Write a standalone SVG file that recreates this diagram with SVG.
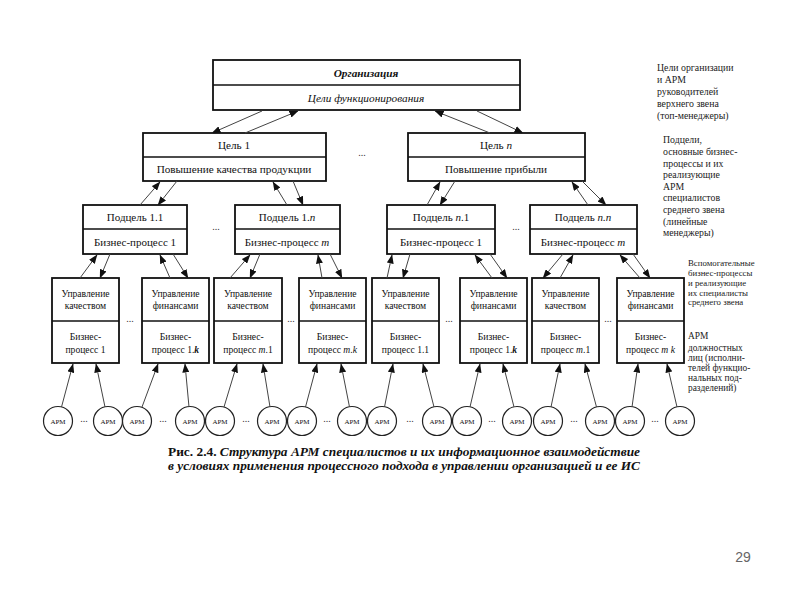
<svg xmlns="http://www.w3.org/2000/svg" width="800" height="600" viewBox="0 0 800 600">
<style>
.box{fill:#fff;stroke:#111;stroke-width:1.8}
.div{stroke:#111;stroke-width:1.4}
.t{font-family:"Liberation Serif","DejaVu Serif",serif;fill:#111;text-anchor:middle}
.t1{font-size:11.3px}
.t2{font-size:11.2px}
.t3{font-size:11px}
.t4{font-size:9.6px}
.ta{font-size:7px}
.up{fill:none;stroke:#444;stroke-width:1;marker-end:url(#ah)}
.dots{font-family:"Liberation Serif",serif;font-size:10px;fill:#333;text-anchor:middle}
.note{font-family:"Liberation Serif","DejaVu Serif",serif;font-size:9.8px;fill:#222}
.n3{font-size:8.8px}
.n4{font-size:9.4px}
.circ{fill:#fff;stroke:#222;stroke-width:1.2}
</style>
<defs>
<marker id="ah" markerUnits="userSpaceOnUse" markerWidth="9" markerHeight="7" refX="8.5" refY="3.5" orient="auto">
<path d="M0,0 L9,3.5 L0,7 z" fill="#111"/>
</marker>
</defs>
<rect width="800" height="600" fill="#fff"/>

<g id="org">
<rect class="box" x="213" y="60" width="307" height="50"/>
<line class="div" x1="213" y1="85" x2="520" y2="85"/>
<text class="t t1" x="366" y="76.5" font-weight="bold" font-style="italic">Организация</text>
<text class="t t1" x="366" y="101.5" font-style="italic">Цели функционирования</text>
</g>

<g id="goal1">
<rect class="box" x="143" y="133" width="183" height="48"/>
<line class="div" x1="143" y1="157" x2="326" y2="157"/>
<text class="t t2" x="234" y="149">Цель 1</text>
<text class="t t2" x="234" y="173">Повышение качества продукции</text>
</g>
<g id="goaln">
<rect class="box" x="408" y="133" width="177" height="48"/>
<line class="div" x1="408" y1="157" x2="585" y2="157"/>
<text class="t t2" x="496" y="149">Цель <tspan font-style="italic">n</tspan></text>
<text class="t t2" x="496" y="173">Повышение прибыли</text>
</g>

<g id="sub11">
<rect class="box" x="83" y="205" width="104" height="49"/>
<line class="div" x1="83" y1="229" x2="187" y2="229"/>
<text class="t t3" x="135" y="221">Подцель 1.1</text>
<text class="t t3" x="135" y="245.5">Бизнес-процесс 1</text>
</g>
<g id="sub1n">
<rect class="box" x="235" y="205" width="105" height="49"/>
<line class="div" x1="235" y1="229" x2="340" y2="229"/>
<text class="t t3" x="287" y="221">Подцель 1.<tspan font-style="italic">n</tspan></text>
<text class="t t3" x="287" y="245.5">Бизнес-процесс <tspan font-style="italic">m</tspan></text>
</g>
<g id="subn1">
<rect class="box" x="387" y="205" width="108" height="49"/>
<line class="div" x1="387" y1="229" x2="495" y2="229"/>
<text class="t t3" x="441" y="221">Подцель <tspan font-style="italic">n</tspan>.1</text>
<text class="t t3" x="441" y="245.5">Бизнес-процесс 1</text>
</g>
<g id="subnn">
<rect class="box" x="530" y="205" width="107" height="49"/>
<line class="div" x1="530" y1="229" x2="637" y2="229"/>
<text class="t t3" x="583" y="221">Подцель <tspan font-style="italic">n.n</tspan></text>
<text class="t t3" x="583" y="245.5">Бизнес-процесс <tspan font-style="italic">m</tspan></text>
</g>

<g id="b1">
<rect class="box" x="52" y="278" width="67" height="85"/>
<line class="div" x1="52" y1="321" x2="119" y2="321"/>
<text class="t t4" x="85.5" y="297">Управление</text><text class="t t4" x="85.5" y="309">качеством</text>
<text class="t t4" x="85.5" y="340">Бизнес-</text><text class="t t4" x="85.5" y="353">процесс 1</text>
</g>
<g id="b2">
<rect class="box" x="142" y="278" width="67" height="85"/>
<line class="div" x1="142" y1="321" x2="209" y2="321"/>
<text class="t t4" x="175.5" y="297">Управление</text><text class="t t4" x="175.5" y="309">финансами</text>
<text class="t t4" x="175.5" y="340">Бизнес-</text><text class="t t4" x="175.5" y="353">процесс 1.<tspan font-style="italic" font-weight="bold">k</tspan></text>
</g>
<g id="b3">
<rect class="box" x="214" y="278" width="68" height="85"/>
<line class="div" x1="214" y1="321" x2="282" y2="321"/>
<text class="t t4" x="248" y="297">Управление</text><text class="t t4" x="248" y="309">качеством</text>
<text class="t t4" x="248" y="340">Бизнес-</text><text class="t t4" x="248" y="353">процесс <tspan font-style="italic">m</tspan>.1</text>
</g>
<g id="b4">
<rect class="box" x="299" y="278" width="67" height="85"/>
<line class="div" x1="299" y1="321" x2="366" y2="321"/>
<text class="t t4" x="332.5" y="297">Управление</text><text class="t t4" x="332.5" y="309">финансами</text>
<text class="t t4" x="332.5" y="340">Бизнес-</text><text class="t t4" x="332.5" y="353">процесс <tspan font-style="italic">m</tspan>.<tspan font-style="italic">k</tspan></text>
</g>
<g id="b5">
<rect class="box" x="372" y="278" width="67" height="85"/>
<line class="div" x1="372" y1="321" x2="439" y2="321"/>
<text class="t t4" x="405.5" y="297">Управление</text><text class="t t4" x="405.5" y="309">качеством</text>
<text class="t t4" x="405.5" y="340">Бизнес-</text><text class="t t4" x="405.5" y="353">процесс 1.1</text>
</g>
<g id="b6">
<rect class="box" x="460" y="278" width="67" height="85"/>
<line class="div" x1="460" y1="321" x2="527" y2="321"/>
<text class="t t4" x="493.5" y="297">Управление</text><text class="t t4" x="493.5" y="309">финансами</text>
<text class="t t4" x="493.5" y="340">Бизнес-</text><text class="t t4" x="493.5" y="353">процесс 1.<tspan font-style="italic" font-weight="bold">k</tspan></text>
</g>
<g id="b7">
<rect class="box" x="532" y="278" width="67" height="85"/>
<line class="div" x1="532" y1="321" x2="599" y2="321"/>
<text class="t t4" x="565.5" y="297">Управление</text><text class="t t4" x="565.5" y="309">качеством</text>
<text class="t t4" x="565.5" y="340">Бизнес-</text><text class="t t4" x="565.5" y="353">процесс <tspan font-style="italic">m</tspan>.1</text>
</g>
<g id="b8">
<rect class="box" x="617" y="278" width="67" height="85"/>
<line class="div" x1="617" y1="321" x2="684" y2="321"/>
<text class="t t4" x="650.5" y="297">Управление</text><text class="t t4" x="650.5" y="309">финансами</text>
<text class="t t4" x="650.5" y="340">Бизнес-</text><text class="t t4" x="650.5" y="353">процесс <tspan font-style="italic">m</tspan> <tspan font-style="italic">k</tspan></text>
</g>

<g id="arm">
<circle class="circ" cx="58" cy="421" r="14.5"/><text class="t ta" x="58" y="423.5">АРМ</text>
<circle class="circ" cx="108" cy="421" r="14.5"/><text class="t ta" x="108" y="423.5">АРМ</text>
<circle class="circ" cx="137" cy="421" r="14.5"/><text class="t ta" x="137" y="423.5">АРМ</text>
<circle class="circ" cx="190" cy="421" r="14.5"/><text class="t ta" x="190" y="423.5">АРМ</text>
<circle class="circ" cx="220" cy="421" r="14.5"/><text class="t ta" x="220" y="423.5">АРМ</text>
<circle class="circ" cx="272" cy="421" r="14.5"/><text class="t ta" x="272" y="423.5">АРМ</text>
<circle class="circ" cx="302" cy="421" r="14.5"/><text class="t ta" x="302" y="423.5">АРМ</text>
<circle class="circ" cx="352" cy="421" r="14.5"/><text class="t ta" x="352" y="423.5">АРМ</text>
<circle class="circ" cx="382" cy="421" r="14.5"/><text class="t ta" x="382" y="423.5">АРМ</text>
<circle class="circ" cx="437" cy="421" r="14.5"/><text class="t ta" x="437" y="423.5">АРМ</text>
<circle class="circ" cx="467" cy="421" r="14.5"/><text class="t ta" x="467" y="423.5">АРМ</text>
<circle class="circ" cx="517" cy="421" r="14.5"/><text class="t ta" x="517" y="423.5">АРМ</text>
<circle class="circ" cx="548" cy="421" r="14.5"/><text class="t ta" x="548" y="423.5">АРМ</text>
<circle class="circ" cx="600" cy="421" r="14.5"/><text class="t ta" x="600" y="423.5">АРМ</text>
<circle class="circ" cx="630" cy="421" r="14.5"/><text class="t ta" x="630" y="423.5">АРМ</text>
<circle class="circ" cx="680" cy="421" r="14.5"/><text class="t ta" x="680" y="423.5">АРМ</text>
</g>

<g id="connectors">
<line class="up" x1="245" y1="133" x2="298" y2="111"/>
<line class="up" x1="262" y1="111" x2="212" y2="133"/>
<line class="up" x1="490" y1="133" x2="435" y2="111"/>
<line class="up" x1="477" y1="111" x2="523" y2="133"/>

<line class="up" x1="140" y1="205" x2="160" y2="182"/>
<line class="up" x1="177" y1="181" x2="158" y2="205"/>
<line class="up" x1="287" y1="205" x2="273" y2="182"/>
<line class="up" x1="293" y1="181" x2="303" y2="205"/>
<line class="up" x1="427" y1="205" x2="440" y2="182"/>
<line class="up" x1="455" y1="181" x2="440" y2="205"/>
<line class="up" x1="588" y1="205" x2="572" y2="182"/>
<line class="up" x1="582" y1="181" x2="606" y2="205"/>

<line class="up" x1="80" y1="278" x2="97" y2="255"/>
<line class="up" x1="110" y1="254" x2="100" y2="278"/>
<line class="up" x1="170" y1="278" x2="160" y2="255"/>
<line class="up" x1="173" y1="254" x2="188" y2="278"/>
<line class="up" x1="230" y1="278" x2="250" y2="255"/>
<line class="up" x1="260" y1="254" x2="250" y2="278"/>
<line class="up" x1="322" y1="278" x2="318" y2="255"/>
<line class="up" x1="330" y1="254" x2="342" y2="278"/>
<line class="up" x1="387" y1="278" x2="392" y2="255"/>
<line class="up" x1="410" y1="254" x2="403" y2="278"/>
<line class="up" x1="492" y1="278" x2="475" y2="255"/>
<line class="up" x1="490" y1="254" x2="507" y2="278"/>
<line class="up" x1="560" y1="278" x2="573" y2="255"/>
<line class="up" x1="563" y1="254" x2="543" y2="278"/>
<line class="up" x1="640" y1="278" x2="620" y2="255"/>
<line class="up" x1="633" y1="254" x2="650" y2="278"/>

<line class="up" x1="61.5" y1="407" x2="73" y2="364"/>
<line class="up" x1="105" y1="407" x2="96" y2="364"/>
<line class="up" x1="142" y1="407" x2="158" y2="364"/>
<line class="up" x1="189" y1="407" x2="185" y2="364"/>
<line class="up" x1="224" y1="407" x2="237" y2="364"/>
<line class="up" x1="270" y1="407" x2="263" y2="364"/>
<line class="up" x1="305.5" y1="407" x2="317" y2="364"/>
<line class="up" x1="349.5" y1="407" x2="341" y2="364"/>
<line class="up" x1="384.5" y1="407" x2="393" y2="364"/>
<line class="up" x1="434" y1="407" x2="423" y2="364"/>
<line class="up" x1="470" y1="407" x2="480" y2="364"/>
<line class="up" x1="514" y1="407" x2="503" y2="364"/>
<line class="up" x1="551" y1="407" x2="560" y2="364"/>
<line class="up" x1="596.5" y1="407" x2="585" y2="364"/>
<line class="up" x1="632" y1="407" x2="638" y2="364"/>
<line class="up" x1="677" y1="407" x2="667" y2="364"/>
</g>

<g id="ellipses">
<text class="dots" x="362" y="156">...</text>
<text class="dots" x="216" y="230">...</text>
<text class="dots" x="516" y="230">...</text>
<text class="dots" x="130" y="322">...</text>
<text class="dots" x="291" y="322">...</text>
<text class="dots" x="449" y="322">...</text>
<text class="dots" x="608" y="322">...</text>
<text class="dots" x="84" y="422">...</text>
<text class="dots" x="163" y="422">...</text>
<text class="dots" x="246" y="422">...</text>
<text class="dots" x="327" y="422">...</text>
<text class="dots" x="410" y="422">...</text>
<text class="dots" x="492" y="422">...</text>
<text class="dots" x="574" y="422">...</text>
<text class="dots" x="655" y="422">...</text>
</g>

<g id="notes">
<text class="note" x="657" y="71">Цели организации</text>
<text class="note" x="657" y="83">и АРМ</text>
<text class="note" x="657" y="95">руководителей</text>
<text class="note" x="657" y="107">верхнего звена</text>
<text class="note" x="657" y="119">(топ-менеджеры)</text>

<text class="note" x="663" y="143">Подцели,</text>
<text class="note" x="663" y="155">основные бизнес-</text>
<text class="note" x="663" y="167">процессы и их</text>
<text class="note" x="663" y="178">реализующие</text>
<text class="note" x="663" y="190">АРМ</text>
<text class="note" x="663" y="201">специалистов</text>
<text class="note" x="663" y="213">среднего звена</text>
<text class="note" x="663" y="225">(линейные</text>
<text class="note" x="663" y="236">менеджеры)</text>

<text class="note n3" x="688" y="266">Вспомогательные</text>
<text class="note n3" x="688" y="276">бизнес-процессы</text>
<text class="note n3" x="688" y="286">и реализующие</text>
<text class="note n3" x="688" y="296">их специалисты</text>
<text class="note n3" x="688" y="305">среднего звена</text>

<text class="note n4" x="688" y="339">АРМ</text>
<text class="note n4" x="688" y="351">должностных</text>
<text class="note n4" x="688" y="361">лиц (исполни-</text>
<text class="note n4" x="688" y="371">телей функцио-</text>
<text class="note n4" x="688" y="381">нальных под-</text>
<text class="note n4" x="688" y="391">разделений)</text>
</g>

<g id="caption" font-family="'Liberation Serif','DejaVu Serif',serif" font-size="12.5" fill="#111" font-weight="bold">
<text x="168" y="456" textLength="472" lengthAdjust="spacingAndGlyphs">Рис. 2.4. <tspan font-style="italic">Структура АРМ специалистов и их информационное взаимодействие</tspan></text>
<text x="168" y="470" font-style="italic" textLength="472" lengthAdjust="spacingAndGlyphs">в условиях применения процессного подхода в управлении организацией и ее ИС</text>
</g>

<text x="743" y="562" font-family="'Liberation Sans',Arial,sans-serif" font-size="14" fill="#666" text-anchor="middle">29</text>
</svg>
